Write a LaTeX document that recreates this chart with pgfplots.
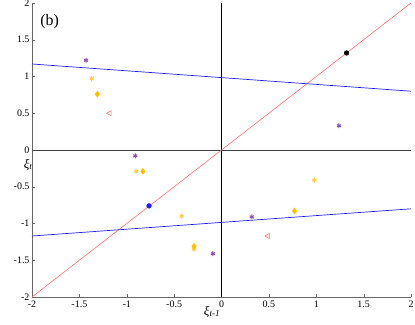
\documentclass[border=0pt]{standalone}
\usepackage{fontspec}
\setmainfont{Liberation Serif}
\usepackage{pgfplots}
\pgfplotsset{compat=1.18}
\definecolor{lred}{RGB}{255,110,110}
\definecolor{lblue}{RGB}{30,30,235}
\definecolor{purp}{RGB}{140,80,170}
\definecolor{lyel}{RGB}{250,205,70}
\definecolor{gold}{RGB}{255,190,0}
\begin{document}
\begin{tikzpicture}
\path[use as bounding box] (-32bp,-28bp) rectangle (383bp,297bp);
\begin{axis}[
  scale only axis, width=379bp, height=294bp,
  xmin=-2, xmax=2, ymin=-2, ymax=2,
  axis x line*=bottom, axis y line*=left,
  axis line style={gray!80!black, -},
  tick style={gray!80!black},
  tick align=inside,
  major tick length=3bp,
  xtick={-2,-1.5,...,2}, ytick={-2,-1.5,...,2},
  ticklabel style={font=\fontsize{10}{12}\selectfont},
  xticklabels={\textrm{-2},\textrm{-1.5},\textrm{-1},\textrm{-0.5},\textrm{0},\textrm{0.5},\textrm{1},\textrm{1.5},\textrm{2}},
  yticklabels={\textrm{-2},\textrm{-1.5},\textrm{-1},\textrm{-0.5},\textrm{0},\textrm{0.5},\textrm{1},\textrm{1.5},\textrm{2}},
  yticklabel style={xshift=1bp},
  clip=false,
]
\addplot[black!75, line width=0.8pt] coordinates {(-2,0) (2,0)};
\addplot[black, line width=0.8pt] coordinates {(0,-2) (0,2)};
\addplot[lred, line width=0.6pt] coordinates {(-2,-2) (2,2)};
\addplot[lblue, line width=0.7pt] coordinates {(-2,1.17) (2,0.80)};
\addplot[lblue, line width=0.7pt] coordinates {(-2,-1.17) (2,-0.80)};
\addplot[only marks, mark=triangle, mark options={rotate=90, draw=lred, fill=white, line width=0.6pt}, mark size=3pt] coordinates {(-1.18,0.50) (0.49,-1.17)};
\addplot[only marks, mark=asterisk, mark size=2.4pt, purp, mark options={line width=1pt}] coordinates {(-1.43,1.22) (-0.91,-0.08) (-0.09,-1.41) (0.32,-0.91) (1.24,0.33)};
\addplot[only marks, mark=asterisk, mark size=2.4pt, lyel, mark options={line width=1pt}] coordinates {(-1.37,0.97) (-0.90,-0.29) (-0.42,-0.90) (-0.29,-1.35) (0.98,-0.41)};
\addplot[only marks, mark=diamond*, mark size=3pt, gold, mark options={fill=gold, draw=gold}] coordinates {(-1.31,0.76) (-0.83,-0.29) (-0.29,-1.31) (0.77,-0.83)};
\addplot[only marks, mark=*, mark size=2.4pt, black] coordinates {(1.32,1.32)};
\addplot[only marks, mark=*, mark size=2.4pt, lblue] coordinates {(-0.765,-0.76)};
\node[font=\fontsize{16}{18}\selectfont, anchor=west] at (axis cs:-1.95,1.74) {(b)};
\node[font=\fontsize{13}{14}\selectfont\itshape] at (axis cs:-2.04,-0.2) {ξ\textsubscript{t}};
\node[font=\fontsize{13}{14}\selectfont\itshape] at (axis cs:-0.1,-2.2) {ξ\textsubscript{t-1}};
\end{axis}
\end{tikzpicture}
\end{document}
